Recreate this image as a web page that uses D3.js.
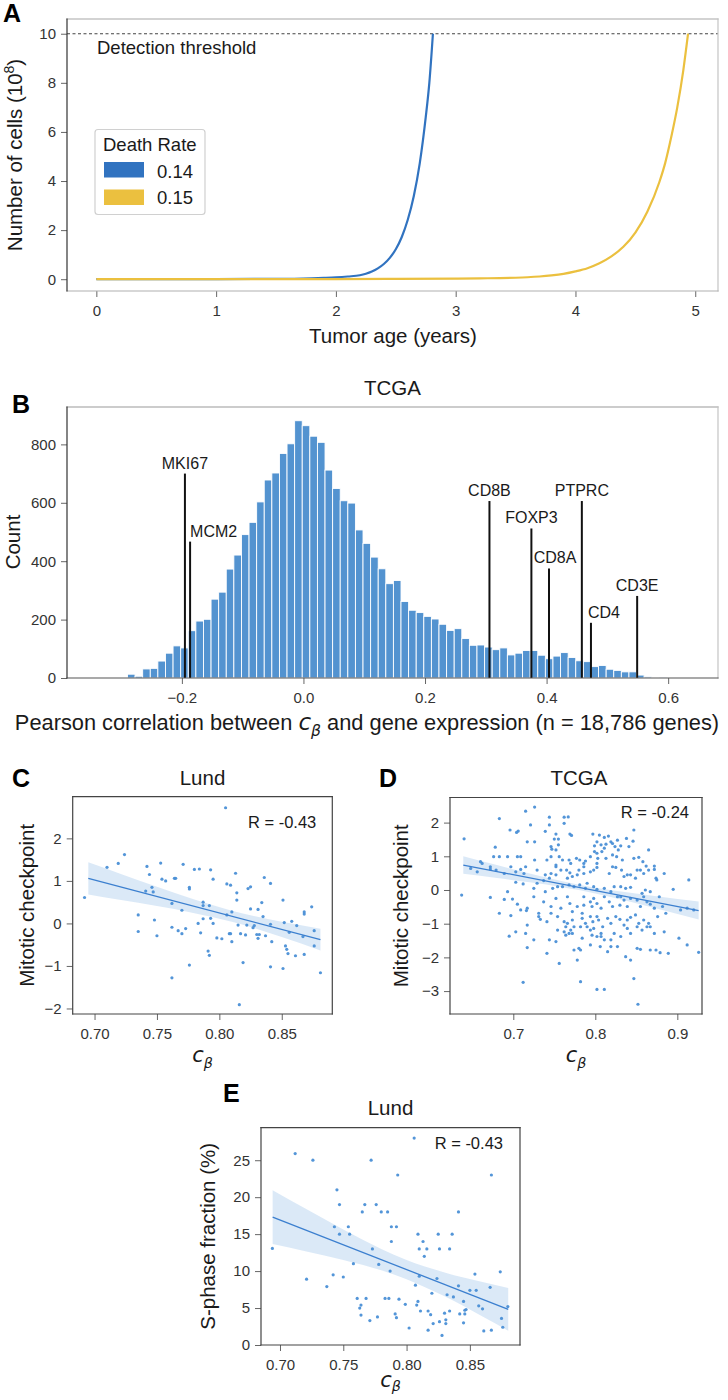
<!DOCTYPE html>
<html><head><meta charset="utf-8">
<script src="https://cdn.jsdelivr.net/npm/d3@7"></script>
<style>body{margin:0;background:#fff}</style>
</head><body><svg id="fig" width="728" height="1400"></svg>
<script>
// ---------------- DATA ----------------
// Panel A: tumour growth curves (age in years, cells in 10^8)
const ageBlue    = [0, 0.5, 1.0, 1.5, 1.8, 1.9, 2.0, 2.1, 2.2, 2.25, 2.3, 2.35, 2.4, 2.45, 2.5, 2.55, 2.6, 2.65, 2.7, 2.75, 2.78, 2.81];
const cellsBlue  = [0, 0.003, 0.006, 0.015, 0.04, 0.055, 0.075, 0.11, 0.16, 0.22, 0.31, 0.44, 0.62, 0.87, 1.22, 1.72, 2.42, 3.38, 4.72, 6.6, 8.0, 10.0];
const ageYellow   = [0, 1.0, 2.0, 2.5, 3.0, 3.2, 3.5, 3.6, 3.7, 3.8, 3.9, 4.0, 4.1, 4.2, 4.3, 4.4, 4.5, 4.6, 4.7, 4.75, 4.8, 4.85, 4.9, 4.94];
const cellsYellow = [0, 0.002, 0.006, 0.012, 0.025, 0.035, 0.06, 0.08, 0.11, 0.155, 0.22, 0.32, 0.45, 0.65, 0.93, 1.32, 1.9, 2.75, 3.95, 4.75, 5.8, 7.0, 8.5, 10.0];
const deathRates = ["0.14", "0.15"];
const detectionThreshold = 10;
const ageTicks = [0, 1, 2, 3, 4, 5];
const cellTicks = [0, 2, 4, 6, 8, 10];

// Panel B: histogram of correlations
const histBinStart = -0.2895;
const histBinWidth = 0.0125;
const histCounts = [13, 6, 31, 33, 58, 85, 110, 103, 162, 195, 201, 270, 294, 373, 421, 491, 533, 603, 678, 702,
  769, 802, 881, 864, 828, 807, 712, 649, 607, 599, 507, 461, 414, 374, 323, 334, 262, 232, 224, 211,
  202, 184, 163, 169, 135, 112, 113, 106, 97, 103, 79, 85, 94, 94, 78, 66, 75, 87, 70, 59,
  56, 39, 43, 30, 26, 21, 21, 10, 4, 2, 1];
const genes      = ["MKI67", "MCM2", "CD8B", "FOXP3", "CD8A", "PTPRC", "CD4", "CD3E"];
const geneCorr   = [-0.195, -0.1865, 0.306, 0.375, 0.404, 0.458, 0.473, 0.549];
const geneHeight = [700, 467, 606, 512, 375, 606, 189, 281];
const corrTicks = [-0.2, 0.0, 0.2, 0.4, 0.6];
const countTicks = [0, 200, 400, 600, 800];

// Panel C: Lund, mitotic checkpoint vs c_beta
const lundMitotic = [[0.692,0.61],[0.710,1.32],[0.719,1.41],[0.724,1.62],[0.735,0.20],[0.735,-0.19],[0.741,0.76],[0.742,1.34],[0.744,1.15],[0.746,0.85],[0.747,0.74],[0.748,0.08],[0.750,-0.29],[0.753,1.42],[0.754,1.04],[0.757,1.00],[0.762,0.47],[0.762,-0.09],[0.762,-1.28],[0.764,1.06],[0.765,1.06],[0.767,-0.17],[0.770,0.31],[0.770,-0.24],[0.771,1.39],[0.773,-0.12],[0.776,0.81],[0.776,0.85],[0.776,-0.98],[0.780,1.27],[0.784,1.28],[0.783,0.00],[0.785,-0.22],[0.787,0.42],[0.787,0.50],[0.787,0.11],[0.791,-0.65],[0.792,-0.75],[0.792,0.42],[0.793,1.26],[0.793,0.12],[0.795,1.04],[0.795,0.00],[0.798,-0.34],[0.802,-0.36],[0.805,2.72],[0.806,0.93],[0.806,0.20],[0.809,0.90],[0.808,-0.24],[0.809,-0.24],[0.810,0.27],[0.810,-0.43],[0.813,1.18],[0.814,0.72],[0.814,0.55],[0.815,-0.04],[0.816,-1.91],[0.817,-0.24],[0.819,-0.92],[0.821,-0.27],[0.822,-0.04],[0.823,0.82],[0.825,0.86],[0.825,0.34],[0.827,-0.10],[0.828,-0.05],[0.830,-0.26],[0.831,-0.35],[0.831,0.33],[0.832,-0.26],[0.834,0.49],[0.835,0.16],[0.836,1.08],[0.837,-0.29],[0.841,-0.02],[0.841,0.94],[0.841,-1.02],[0.842,-0.43],[0.851,0.55],[0.851,-1.06],[0.852,0.02],[0.853,-0.53],[0.854,-0.61],[0.855,-0.71],[0.856,-0.21],[0.858,0.05],[0.861,-0.76],[0.862,-0.05],[0.867,-0.31],[0.868,-0.73],[0.868,0.27],[0.868,0.22],[0.874,0.39],[0.876,-0.17],[0.876,-0.53],[0.881,-1.16]];
const lundMitoticFitX = [0.695, 0.881];
const lundMitoticFitY = [1.06, -0.38];
const lundMitoticCiX  = [0.695, 0.72, 0.75, 0.78, 0.81, 0.85, 0.881];
const lundMitoticCiLo = [0.68, 0.556, 0.407, 0.242, 0.04, -0.32, -0.636];
const lundMitoticCiHi = [1.44, 1.176, 0.861, 0.562, 0.30, 0.04, -0.124];

// Panel D: TCGA, mitotic checkpoint vs c_beta
const tcgaMitotic = [[0.726,2.46],[0.715,2.34],[0.683,2.12],[0.744,2.16],[0.762,2.16],[0.767,2.17],[0.721,1.93],[0.739,1.74],[0.744,1.93],[0.762,1.98],[0.696,1.78],[0.706,1.75],[0.704,1.71],[0.847,1.78],[0.797,1.66],[0.805,1.63],[0.811,1.56],[0.816,1.60],[0.752,1.66],[0.750,1.51],[0.755,1.51],[0.769,1.66],[0.771,1.62],[0.819,1.43],[0.827,1.48],[0.838,1.53],[0.846,1.45],[0.640,1.52],[0.678,1.27],[0.717,1.43],[0.726,1.43],[0.746,1.29],[0.755,1.34],[0.802,1.43],[0.799,1.31],[0.807,1.34],[0.813,1.36],[0.821,1.38],[0.824,1.29],[0.831,1.31],[0.841,1.29],[0.865,1.19],[0.747,1.21],[0.752,1.19],[0.756,0.99],[0.746,0.99],[0.741,0.89],[0.752,0.74],[0.760,0.89],[0.768,0.89],[0.770,0.79],[0.777,0.94],[0.781,0.89],[0.786,0.79],[0.788,0.86],[0.794,0.99],[0.799,1.14],[0.802,1.09],[0.803,0.94],[0.808,1.14],[0.811,1.24],[0.813,0.94],[0.821,1.04],[0.826,0.99],[0.828,1.19],[0.833,0.89],[0.847,0.94],[0.853,0.97],[0.858,0.84],[0.862,0.71],[0.872,0.71],[0.872,0.61],[0.855,0.59],[0.849,0.35],[0.832,0.59],[0.821,0.69],[0.825,0.67],[0.802,0.67],[0.798,0.59],[0.794,0.54],[0.786,0.49],[0.780,0.59],[0.778,0.45],[0.772,0.40],[0.769,0.51],[0.765,0.59],[0.766,0.35],[0.758,0.59],[0.752,0.69],[0.752,0.45],[0.746,0.49],[0.744,0.35],[0.739,0.45],[0.737,0.28],[0.729,0.59],[0.726,0.89],[0.713,0.49],[0.709,0.61],[0.703,0.54],[0.697,0.69],[0.693,0.99],[0.689,0.49],[0.679,0.59],[0.672,0.69],[0.672,0.62],[0.662,0.79],[0.660,0.84],[0.656,0.54],[0.648,0.64],[0.683,0.99],[0.676,0.99],[0.705,0.99],[0.709,0.99],[0.715,0.69],[0.786,0.69],[0.802,0.79],[0.817,0.49],[0.835,0.40],[0.839,0.45],[0.843,0.45],[0.851,0.59],[0.859,0.49],[0.865,0.59],[0.874,0.35],[0.875,0.30],[0.884,0.49],[0.725,0.05],[0.729,0.20],[0.748,0.05],[0.754,0.10],[0.760,0.10],[0.768,0.15],[0.774,0.10],[0.781,0.15],[0.788,0.05],[0.790,0.20],[0.798,0.10],[0.802,0.02],[0.811,0.05],[0.819,-0.05],[0.823,0.10],[0.831,0.10],[0.837,0.05],[0.843,0.08],[0.857,-0.10],[0.861,0.00],[0.867,-0.05],[0.895,0.02],[0.914,0.30],[0.672,-0.22],[0.637,-0.15],[0.693,-0.05],[0.689,-0.28],[0.699,-0.27],[0.705,-0.42],[0.717,-0.54],[0.725,-0.20],[0.737,-0.35],[0.746,-0.49],[0.752,-0.25],[0.758,-0.54],[0.766,-0.20],[0.769,-0.40],[0.772,-0.64],[0.778,-0.49],[0.784,-0.69],[0.786,-0.45],[0.794,-0.35],[0.796,-0.49],[0.798,-0.25],[0.802,-0.40],[0.807,-0.54],[0.811,-0.20],[0.817,-0.35],[0.821,-0.49],[0.827,-0.20],[0.830,-0.45],[0.835,-0.30],[0.839,-0.49],[0.843,-0.25],[0.851,-0.30],[0.855,-0.49],[0.859,-0.20],[0.863,-0.35],[0.867,-0.42],[0.872,-0.54],[0.878,-0.20],[0.882,-0.49],[0.886,-0.69],[0.904,-0.59],[0.912,-0.54],[0.920,-0.59],[0.683,-0.69],[0.697,-0.76],[0.709,-0.59],[0.716,-0.61],[0.731,-0.79],[0.733,-0.87],[0.741,-0.94],[0.746,-0.69],[0.754,-0.79],[0.762,-0.94],[0.764,-1.09],[0.766,-0.99],[0.772,-0.89],[0.774,-1.09],[0.784,-0.84],[0.788,-0.99],[0.790,-1.09],[0.794,-0.79],[0.797,-0.94],[0.802,-0.79],[0.804,-0.89],[0.809,-1.09],[0.815,-0.84],[0.819,-0.99],[0.825,-0.79],[0.830,-0.87],[0.835,-1.04],[0.839,-0.89],[0.843,-0.81],[0.849,-0.74],[0.853,-0.99],[0.859,-0.89],[0.865,-0.99],[0.867,-1.09],[0.876,-0.79],[0.695,-1.37],[0.703,-1.24],[0.715,-1.29],[0.717,-1.04],[0.725,-1.48],[0.744,-1.48],[0.752,-1.53],[0.754,-1.19],[0.762,-1.24],[0.764,-1.34],[0.768,-1.29],[0.770,-1.19],[0.772,-1.29],[0.782,-1.09],[0.784,-1.43],[0.794,-1.19],[0.796,-1.34],[0.798,-1.14],[0.802,-1.38],[0.807,-1.29],[0.811,-1.48],[0.819,-1.48],[0.823,-1.29],[0.831,-1.38],[0.839,-1.14],[0.843,-1.29],[0.851,-1.09],[0.857,-1.19],[0.863,-1.09],[0.872,-1.29],[0.884,-1.24],[0.902,-1.43],[0.717,-1.71],[0.741,-1.88],[0.756,-2.18],[0.778,-2.08],[0.780,-1.73],[0.774,-1.78],[0.782,-1.78],[0.794,-1.63],[0.806,-1.68],[0.807,-1.38],[0.815,-1.83],[0.819,-1.68],[0.827,-1.68],[0.837,-1.98],[0.843,-2.08],[0.851,-1.73],[0.855,-1.76],[0.867,-1.78],[0.874,-1.78],[0.879,-1.86],[0.889,-1.88],[0.912,-1.63],[0.926,-1.85],[0.712,-2.74],[0.782,-2.72],[0.802,-2.95],[0.811,-2.95],[0.847,-2.63],[0.852,-3.39],[0.731,-0.69],[0.712,0.18],[0.703,0.23],[0.739,-0.05],[0.786,-0.20],[0.831,-0.20]];
const tcgaMitoticFitX = [0.639, 0.926];
const tcgaMitoticFitY = [0.74, -0.61];
const tcgaMitoticCiX  = [0.639, 0.68, 0.72, 0.76, 0.78, 0.82, 0.87, 0.926];
const tcgaMitoticCiLo = [0.48, 0.355, 0.227, 0.084, -0.003, -0.217, -0.523, -0.877];
const tcgaMitoticCiHi = [1.00, 0.739, 0.491, 0.258, 0.157, -0.005, -0.169, -0.341];

// Panel E: Lund, S-phase fraction vs c_beta
const lundSphase = [[0.694,13.06],[0.712,25.9],[0.721,8.9],[0.726,25.0],[0.737,7.9],[0.742,9.5],[0.743,16.0],[0.745,21.0],[0.747,19.0],[0.747,15.0],[0.750,9.2],[0.754,16.0],[0.755,15.0],[0.758,11.0],[0.761,6.3],[0.763,5.0],[0.764,5.4],[0.764,4.05],[0.765,18.0],[0.767,19.0],[0.768,6.3],[0.771,3.3],[0.772,25.0],[0.773,13.0],[0.776,19.0],[0.777,3.8],[0.778,10.9],[0.780,18.0],[0.783,6.3],[0.785,18.0],[0.786,6.3],[0.787,10.0],[0.788,16.0],[0.788,14.0],[0.791,4.2],[0.792,16.0],[0.792,3.7],[0.793,23.0],[0.794,6.2],[0.799,5.5],[0.802,2.3],[0.806,28.0],[0.807,8.1],[0.808,5.4],[0.809,15.0],[0.809,5.9],[0.810,13.0],[0.810,9.3],[0.811,4.6],[0.813,14.0],[0.814,12.0],[0.816,13.0],[0.817,4.6],[0.817,2.0],[0.819,4.1],[0.820,7.0],[0.821,2.9],[0.824,9.0],[0.825,15.0],[0.826,13.0],[0.826,3.15],[0.828,1.3],[0.830,4.3],[0.831,3.4],[0.831,2.9],[0.832,6.8],[0.834,13.0],[0.834,4.6],[0.836,15.0],[0.837,6.5],[0.841,18.0],[0.841,8.0],[0.842,4.2],[0.845,5.9],[0.845,3.0],[0.846,4.2],[0.846,4.7],[0.847,4.8],[0.850,7.4],[0.854,9.6],[0.855,7.4],[0.857,5.3],[0.860,4.9],[0.861,1.9],[0.866,7.8],[0.867,23.0],[0.867,2.0],[0.874,9.9],[0.875,3.6],[0.876,2.4],[0.880,5.2]];
const lundSphaseFitX = [0.6942, 0.8803];
const lundSphaseFitY = [17.3, 4.82];
const lundSphaseCiX  = [0.6942, 0.72, 0.75, 0.78, 0.80, 0.83, 0.86, 0.8803];
const lundSphaseCiLo = [13.65, 12.68, 11.49, 10.10, 8.91, 6.58, 3.86, 1.93];
const lundSphaseCiHi = [20.95, 18.46, 15.63, 13.00, 11.51, 9.82, 8.52, 7.71];

const rLabels = ["R = -0.43", "R = -0.24", "R = -0.43"];

// ---------------- DRAWING ----------------
const FONT = '"Liberation Sans", Arial, Helvetica, sans-serif';
const svg = d3.select("#fig").attr("font-family", FONT);
const BLUE = "#3173c0", YELLOW = "#ebc03f", PT = "#4a8fd6";

function txt(x, y, s, size, anchor, extra) {
  const t = svg.append("text").attr("x", x).attr("y", y).attr("font-size", size)
    .attr("text-anchor", anchor || "start").attr("fill", "#1a1a1a").text(s);
  if (extra) extra(t);
  return t;
}
function vtxt(x, y, s, size) {
  return svg.append("text").attr("transform", `translate(${x},${y}) rotate(-90)`)
    .attr("font-size", size).attr("text-anchor", "middle").attr("fill", "#1a1a1a").text(s);
}
function frame(x, y, colors, w) {
  const [x0, x1] = x.range(), [y0, y1] = y.range();
  const segs = [[x0, y1, x1, y1], [x1, y1, x1, y0], [x0, y0, x1, y0], [x0, y1, x0, y0]];
  segs.forEach((s, i) => svg.append("line").attr("x1", s[0]).attr("y1", s[1]).attr("x2", s[2]).attr("y2", s[3])
    .attr("stroke", colors[i]).attr("stroke-width", w || 1.1).attr("stroke-linecap", "square"));
}
function axes(x, y, xt, yt, xf, yf, fs) {
  const bx = svg.append("g").attr("transform", `translate(0,${y.range()[0]})`)
    .call(d3.axisBottom(x).tickValues(xt).tickFormat(xf).tickSize(6).tickPadding(8));
  const ly = svg.append("g").attr("transform", `translate(${x.range()[0]},0)`)
    .call(d3.axisLeft(y).tickValues(yt).tickFormat(yf).tickSize(6).tickPadding(5));
  [bx, ly].forEach(a => {
    a.select(".domain").remove();
    a.selectAll("line").attr("stroke", "#666").attr("stroke-width", 1);
    a.selectAll("text").attr("font-size", fs || 15).attr("fill", "#333").attr("font-family", FONT);
  });
}
function cbeta(t, size, sub) {
  t.append("tspan").attr("font-family", "DejaVu Sans").attr("font-style", "italic").attr("font-size", size).text("c");
  t.append("tspan").attr("font-family", "DejaVu Sans").attr("font-style", "italic").attr("font-size", size * 0.68)
    .attr("dy", sub).text("β");
}
function panelLetter(x, y, s) {
  svg.append("text").attr("x", x).attr("y", y).attr("font-size", 25).attr("font-weight", "bold")
    .attr("fill", "#000").text(s);
}

// ===== Panel A =====
const xA = d3.scaleLinear().domain([-0.245, 5.19]).range([67, 718]);
const yA = d3.scaleLinear().domain([-0.48, 10.6]).range([291, 19]);
axes(xA, yA, ageTicks, cellTicks, d3.format("d"), d3.format("d"), 15);
svg.append("line").attr("x1", xA.range()[0]).attr("x2", xA.range()[1])
  .attr("y1", yA(detectionThreshold)).attr("y2", yA(detectionThreshold))
  .attr("stroke", "#444").attr("stroke-width", 1.2).attr("stroke-dasharray", "3,2.5");
const lineA = d3.line().x(d => xA(d[0])).y(d => yA(d[1])).curve(d3.curveMonotoneX);
svg.append("path").attr("d", lineA(d3.zip(ageBlue, cellsBlue))).attr("fill", "none")
  .attr("stroke", BLUE).attr("stroke-width", 2.2);
svg.append("path").attr("d", lineA(d3.zip(ageYellow, cellsYellow))).attr("fill", "none")
  .attr("stroke", YELLOW).attr("stroke-width", 2.2);
frame(xA, yA, ["#a8a8a8", "#c4c4c4", "#b0b0b0", "#333"], 1.2);
txt(97, 54, "Detection threshold", 18.5);
// legend
svg.append("rect").attr("x", 95).attr("y", 129.5).attr("width", 110).attr("height", 85).attr("rx", 3)
  .attr("fill", "#fff").attr("stroke", "#d0d0d0").attr("stroke-width", 1.2);
txt(103, 151, "Death Rate", 18.5);
[BLUE, YELLOW].forEach((c, i) => {
  svg.append("rect").attr("x", 104).attr("y", 162 + i * 27.5).attr("width", 40).attr("height", 15.5).attr("fill", c);
  txt(157, 177.5 + i * 26.5, deathRates[i], 18.5);
});
vtxt(22, 155, "Number of cells (10", 20.5).call(t => {
  t.append("tspan").attr("font-size", 14).attr("dy", -8).text("8");
  t.append("tspan").attr("dy", 8).text(")");
});
txt(393, 343, "Tumor age (years)", 20.5, "middle");
panelLetter(3, 22, "A");

// ===== Panel B =====
const xB = d3.scaleLinear().domain([-0.389, 0.682]).range([67, 718]);
const yB = d3.scaleLinear().domain([0, 928]).range([678, 407]);
svg.append("g").selectAll("rect").data(histCounts).join("rect")
  .attr("x", (d, i) => xB(histBinStart + i * histBinWidth))
  .attr("width", xB(histBinWidth) - xB(0))
  .attr("y", d => yB(d)).attr("height", d => yB(0) - yB(d))
  .attr("fill", "#5393d0").attr("stroke", "#fff").attr("stroke-width", 0.9);
const geneDx = [0, 0, 0, 0, 6, 0, -3, 0];
const geneAnchor = ["middle", "start", "middle", "middle", "middle", "middle", "start", "middle"];
genes.forEach((g, i) => {
  svg.append("line").attr("x1", xB(geneCorr[i])).attr("x2", xB(geneCorr[i]))
    .attr("y1", yB(0)).attr("y2", yB(geneHeight[i])).attr("stroke", "#111").attr("stroke-width", 2);
  txt(xB(geneCorr[i]) + geneDx[i], yB(geneHeight[i]) - 5, g, 16, geneAnchor[i]);
});
axes(xB, yB, corrTicks, countTicks, d3.format(".1f"), d3.format("d"), 15);
frame(xB, yB, ["#999", "#c4c4c4", "#555", "#333"], 1.2);
txt(392.5, 395, "TCGA", 20.5, "middle");
vtxt(20, 542, "Count", 20.5);
txt(367, 729.5, "Pearson correlation between ", 21.8, "middle", t => {
  cbeta(t, 23, 6);
  t.append("tspan").attr("dy", -6).text(" and gene expression (n = 18,786 genes)");
});
panelLetter(12, 413, "B");

// ===== Scatter panels =====
function scatterPanel(cfg) {
  const x = d3.scaleLinear().domain(cfg.xd).range(cfg.xr);
  const y = d3.scaleLinear().domain(cfg.yd).range(cfg.yr);
  const area = d3.area().x(d => x(d[0])).y0(d => y(d[1])).y1(d => y(d[2])).curve(d3.curveMonotoneX);
  svg.append("path").attr("d", area(d3.zip(cfg.ciX, cfg.ciLo, cfg.ciHi)))
    .attr("fill", "#4a8fd6").attr("fill-opacity", 0.2);
  svg.append("g").selectAll("circle").data(cfg.pts).join("circle")
    .attr("cx", d => x(d[0])).attr("cy", d => y(d[1])).attr("r", 1.6)
    .attr("fill", PT).attr("fill-opacity", 0.95);
  svg.append("line").attr("x1", x(cfg.fitX[0])).attr("x2", x(cfg.fitX[1]))
    .attr("y1", y(cfg.fitY[0])).attr("y2", y(cfg.fitY[1]))
    .attr("stroke", "#3b7fcf").attr("stroke-width", 1.3);
  axes(x, y, cfg.xt, cfg.yt, cfg.xf, cfg.yf, 15);
  frame(x, y, ["#444", "#444", "#444", "#444"], 1.2);
  txt(cfg.xr[1] - cfg.rDx, cfg.rY, cfg.r, 16.5, "end");
  txt(cfg.titleX, cfg.titleY, cfg.title, 20.5, "middle");
  vtxt(cfg.ylX, (cfg.yr[0] + cfg.yr[1]) / 2, cfg.ylabel, 20.5);
  const t = svg.append("text").attr("x", (cfg.xr[0] + cfg.xr[1]) / 2).attr("y", cfg.xlY)
    .attr("text-anchor", "middle").attr("fill", "#1a1a1a");
  cbeta(t, 21, cfg.sub);
}

scatterPanel({
  xd: [0.6825, 0.8905], xr: [72.7, 332.3], yd: [-2.13, 2.98], yr: [1014, 796.7],
  pts: lundMitotic, fitX: lundMitoticFitX, fitY: lundMitoticFitY,
  ciX: lundMitoticCiX, ciLo: lundMitoticCiLo, ciHi: lundMitoticCiHi,
  xt: [0.70, 0.75, 0.80, 0.85], yt: [-2, -1, 0, 1, 2], xf: d3.format(".2f"), yf: d3.format("d"),
  r: rLabels[0], rDx: 16, rY: 828, title: "Lund", titleX: 202.5, titleY: 785,
  ylabel: "Mitotic checkpoint", ylX: 34, xlY: 1062, sub: 5.5
});
panelLetter(12, 787, "C");

scatterPanel({
  xd: [0.6228, 0.9301], xr: [450, 702], yd: [-3.68, 2.745], yr: [1014, 797.5],
  pts: tcgaMitotic, fitX: tcgaMitoticFitX, fitY: tcgaMitoticFitY,
  ciX: tcgaMitoticCiX, ciLo: tcgaMitoticCiLo, ciHi: tcgaMitoticCiHi,
  xt: [0.7, 0.8, 0.9], yt: [-3, -2, -1, 0, 1, 2], xf: d3.format(".1f"), yf: d3.format("d"),
  r: rLabels[1], rDx: 13, rY: 818, title: "TCGA", titleX: 579, titleY: 785,
  ylabel: "Mitotic checkpoint", ylX: 408, xlY: 1062, sub: 5.5
});
panelLetter(379, 787, "D");

scatterPanel({
  xd: [0.685, 0.8896], xr: [261, 520], yd: [0, 29.4], yr: [1345, 1127.7],
  pts: lundSphase, fitX: lundSphaseFitX, fitY: lundSphaseFitY,
  ciX: lundSphaseCiX, ciLo: lundSphaseCiLo, ciHi: lundSphaseCiHi,
  xt: [0.70, 0.75, 0.80, 0.85], yt: [0, 5, 10, 15, 20, 25], xf: d3.format(".2f"), yf: d3.format("d"),
  r: rLabels[2], rDx: 17, rY: 1149, title: "Lund", titleX: 390.5, titleY: 1115,
  ylabel: "S-phase fraction (%)", ylX: 215, xlY: 1387, sub: 4
});
panelLetter(223, 1102, "E");
</script></body></html>
